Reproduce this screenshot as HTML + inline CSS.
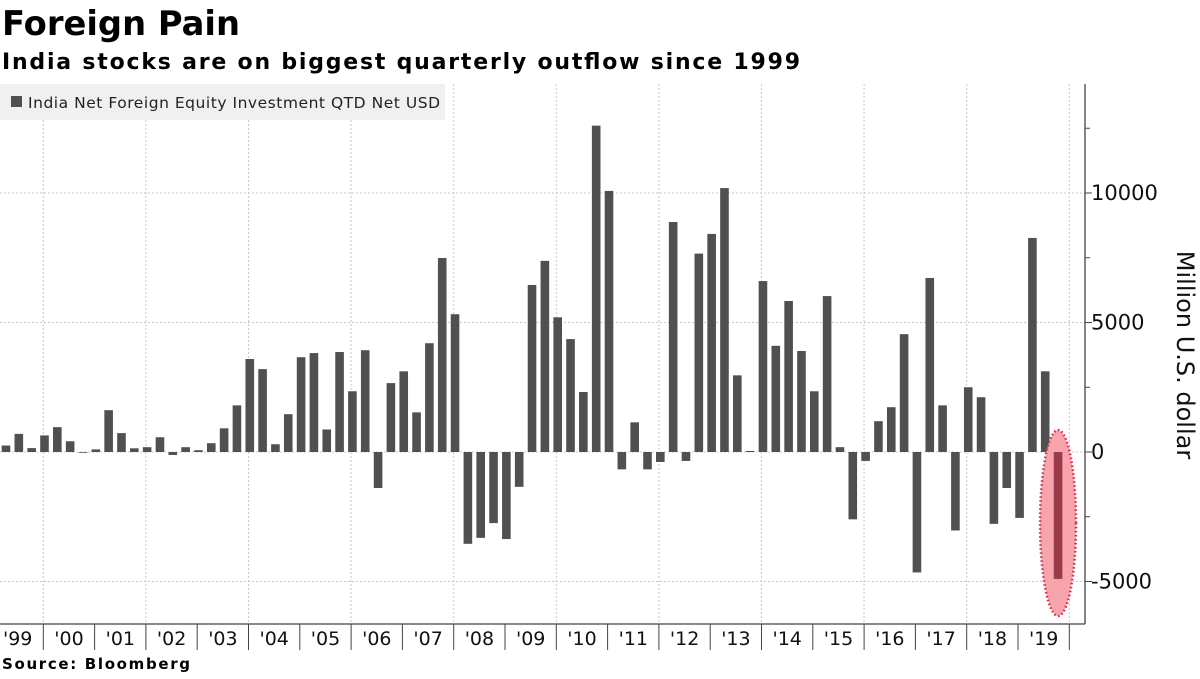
<!DOCTYPE html>
<html><head><meta charset="utf-8"><style>
body{margin:0;background:#fff;width:1200px;height:675px;overflow:hidden;font-family:"DejaVu Sans","Liberation Sans",sans-serif}
</style></head><body>
<svg id="chart" width="1200" height="675" xmlns="http://www.w3.org/2000/svg">
<text x="2" y="35" font-size="34" font-weight="bold" textLength="238" lengthAdjust="spacingAndGlyphs" font-family="DejaVu Sans, sans-serif">Foreign Pain</text>
<text x="2" y="69" font-size="22" font-weight="bold" textLength="798" lengthAdjust="spacing" font-family="DejaVu Sans, sans-serif">India stocks are on biggest quarterly outflow since 1999</text>
<g id="grid"></g>
<g id="bars"></g>
<g id="axes"></g>
<g>
<rect x="0" y="84" width="445" height="36" fill="#f0f0f0"/>
<rect x="11" y="96" width="11" height="11" fill="#505050"/>
<text x="28" y="108" font-size="15.5" fill="#222" textLength="412" lengthAdjust="spacing">India Net Foreign Equity Investment QTD Net USD</text>
</g>
<text transform="translate(1177,355) rotate(90)" text-anchor="middle" font-size="24" fill="#111">Million U.S. dollar</text>
<text x="2" y="669" font-size="15" font-weight="bold" textLength="188" lengthAdjust="spacing">Source: Bloomberg</text>
</svg>
<script>
const values = [250,700,150,640,960,415,-20,100,1615,730,143,186,570,-115,186,70,340,915,1800,3590,3200,300,1460,3660,3820,870,3860,2345,3930,-1390,2660,3115,1530,4200,7490,5320,-3545,-3315,-2745,-3360,-1345,6450,7380,5200,4360,2315,12600,10080,-670,1145,-670,-385,8880,-345,7660,8420,10190,2960,40,6600,4100,5830,3900,2345,6020,186,-2600,-345,1190,1730,4550,-4650,6720,1800,-3030,2500,2115,-2775,-1390,-2545,8265,3115,-4900];
const yearLabels = ["'99","'00","'01","'02","'03","'04","'05","'06","'07","'08","'09","'10","'11","'12","'13","'14","'15","'16","'17","'18","'19"];
const majorTicks = [10000,5000,0,-5000];
const minorTicks = [12500,7500,2500,-2500];
const NS="http://www.w3.org/2000/svg";
const x0=6, step=12.83, bw=8.6, axisX=1085, bottomY=624;
const yScale=v=>452 - v*0.0259;
const xScale=i=>x0+step*i;
const sepX=k=>43.3+51.3*k;
function mk(tag,attrs,parent){const e=document.createElementNS(NS,tag);for(const k in attrs)e.setAttribute(k,attrs[k]);parent.appendChild(e);return e;}
const grid=document.getElementById('grid'),bars=document.getElementById('bars'),axes=document.getElementById('axes');
majorTicks.forEach(v=>{
  const l=mk('line',{x1:0,x2:axisX,y1:yScale(v),y2:yScale(v),stroke:'#c8c8c8','stroke-dasharray':'2,2'},grid);
  
  
});
for(let k=0;k<yearLabels.length;k+=2){
  const l=mk('line',{x1:sepX(k),x2:sepX(k),y1:84,y2:bottomY,stroke:'#c8c8c8','stroke-dasharray':'2,2'},grid);
  
  
}
values.forEach((v,i)=>{
  const y=Math.min(yScale(v),yScale(0)),h=Math.abs(yScale(v)-yScale(0));
  const last=i===values.length-1;
  if(last){
    const e=mk('ellipse',{cx:xScale(i),cy:523,rx:18,ry:93,fill:'#f7a4ad',stroke:'#d4264a','stroke-width':2.5,'stroke-dasharray':'1.5,2.5'},bars);
    
    
  }
  const r=mk('rect',{x:xScale(i)-bw/2,y:y,width:bw,height:Math.max(h,0.8),fill:last?'#9a3a4b':'#505050'},bars);
  
  
});
const ya=mk('line',{x1:axisX,x2:axisX,y1:84,y2:bottomY,stroke:'#444','stroke-width':1.3},axes);


const xa=mk('line',{x1:0,x2:axisX,y1:bottomY,y2:bottomY,stroke:'#444','stroke-width':1.3},axes);


majorTicks.forEach(v=>{
  mk('line',{x1:axisX,x2:axisX+7,y1:yScale(v),y2:yScale(v),stroke:'#444'},axes);
  const t=mk('text',{x:axisX+11-8+3,y:yScale(v)+7,'font-size':21,fill:'#111'},axes);
  t.textContent=String(v);
  
  
});
minorTicks.forEach(v=>{mk('line',{x1:axisX,x2:axisX+5,y1:yScale(v),y2:yScale(v),stroke:'#444'},axes);});
yearLabels.forEach((lab,k)=>{
  mk('line',{x1:sepX(k),x2:sepX(k),y1:bottomY,y2:650,stroke:'#444'},axes);
  const t=mk('text',{x:sepX(k)-25.6,y:645,'font-size':19,'text-anchor':'middle',fill:'#111'},axes);
  t.textContent=lab;
  
  
});
</script>
</body></html>
